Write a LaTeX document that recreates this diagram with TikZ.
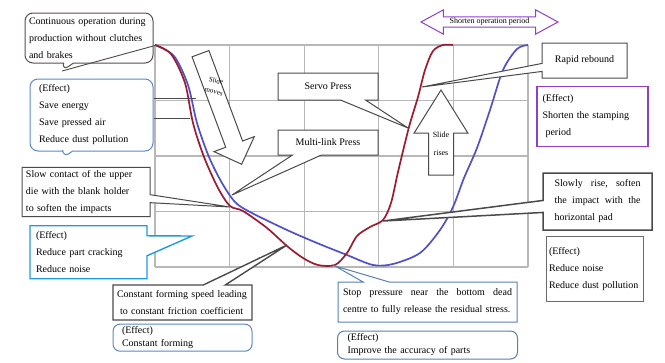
\documentclass[tikz,border=0pt]{standalone}
\usepackage{fontspec}
\setmainfont{Liberation Serif}
\usetikzlibrary{positioning,shapes.callouts,shapes.arrows}

\definecolor{servored}{HTML}{9B1C31}
\definecolor{linkblue}{HTML}{5050C8}
\definecolor{gridgray}{HTML}{B8B8B8}
\definecolor{boxgray}{HTML}{4A4A4A}
\definecolor{bubblegray}{HTML}{5A4D50}
\definecolor{effblue}{HTML}{5B88C8}
\definecolor{effcyan}{HTML}{1E9BE0}
\definecolor{stopblue}{HTML}{5A80B0}
\definecolor{effpurple}{HTML}{9040C8}
\definecolor{noisegray}{HTML}{6A6A6A}

\tikzset{
  every node/.style={font=\fontsize{10}{17}\selectfont},
  gridline/.style={draw=gridgray, line width=1.1pt},
  curve/.style={line width=1.7pt, smooth, tension=0.5},
  note/.style={draw=boxgray, line width=1pt, fill=white, align=left, inner xsep=4pt, inner ysep=3pt},
  notecall/.style={note, rectangle callout, callout pointer width=#1},
  notecall/.default=10pt,
  effect/.style={note, draw=effblue},
  ptrline/.style={draw=boxgray, line width=0.9pt},
  blockarrow/.style={draw=boxgray, line width=1pt, fill=white, single arrow, inner xsep=0pt},
  arrowtxt/.style={font=\fontsize{7}{11}\selectfont, align=center, inner sep=0pt},
}

\begin{document}
\begin{tikzpicture}[x=1pt,y=-1pt]
\useasboundingbox (0,0) rectangle (665,362);

% grid
\foreach \gx in {155,229.6,304.2,378.8,453.4,528}
  \draw[gridline] (\gx,45) -- (\gx,267);
\foreach \gy in {45,100.5,156,211.5,267}
  \draw[gridline] (155,\gy) -- (528,\gy);

% slide curves
\draw[curve, linkblue] plot coordinates {(155,45) (174,56) (188,85) (197,123) (209,157)
  (222,183) (235,202) (250,212) (287,230) (317,243) (347,255) (373,265) (393,264)
  (420,253) (440,230) (453,207) (464,178) (477,148) (490,110) (503,70) (517,49) (528,45)};
\draw[curve, servored] plot coordinates {(155,45) (171,54) (185,83) (193,123) (204,157)
  (218,188) (230,206) (243,211) (267,228) (287,246) (303,258) (318,265) (335,265)
  (347,253) (357,236) (370,227) (383,220) (391,203) (398,172) (409,127) (418,97)
  (425,70) (433,51) (443,45) (453,45)};

% points on the curves
\coordinate (top) at (157,45);
\coordinate (b1tip) at (62,71);
\coordinate (b2tip) at (63,158);
\coordinate (s1) at (196,98);
\coordinate (s2) at (190,118);
\coordinate (knee) at (230,207);
\coordinate (crackpt) at (192,236);
\coordinate (formpt) at (287,245);
\coordinate (bdc) at (335,266);
\coordinate (servopt) at (408,128);
\coordinate (linkpt) at (232,195);
\coordinate (reboundpt) at (422,87);
\coordinate (risept) at (383,221);

% slide arrows
\node[blockarrow, rotate=-69.6, minimum height=118pt, inner ysep=8.5pt,
  single arrow head extend=12.5pt] (moves) at (219.5,104.75) {};
\node[arrowtxt, rotate=-12] (movestxt) at (215,86) {Slide\\moves};
\node[blockarrow, rotate=90, minimum height=85pt, inner ysep=12pt,
  single arrow head extend=14.5pt, single arrow tip angle=64] (rises) at (441,142.5) {};
\node[arrowtxt, font=\fontsize{8}{18}\selectfont] (risestxt) at (441,144) {Slide\\rises};
\node[draw=effpurple, line width=1pt, fill=white, double arrow, double arrow head extend=7pt,
  double arrow tip angle=57, minimum height=137pt, inner sep=1pt,
  font=\fontsize{8}{8}\selectfont] (shorten) at (489.5,22) {Shorten operation period};

% left notes
\node[notecall=10pt, draw=bubblegray, rounded corners=8pt, text width=120pt, minimum height=50pt,
  callout absolute pointer={(b1tip)}] (cont) at (89,38)
  {Continuous operation during\\production without clutches\\and brakes};
\node[notecall=10pt, draw=effblue, rounded corners=8pt, text width=105pt, inner xsep=9pt,
  minimum height=72pt, below=15pt of cont, xshift=2.5pt, callout absolute pointer={(b2tip)}] (save)
  {(Effect)\\Save energy\\Save pressed air\\Reduce dust pollution};
\node[notecall=8pt, text width=120pt, minimum height=48pt,
  callout absolute pointer={(knee)}] (slow) at (86,192)
  {Slow contact of the upper\\die with the blank holder\\to soften the impacts};
\node[notecall=20pt, draw=effcyan, line width=1.4pt, text width=105pt, inner xsep=6pt,
  minimum height=53pt, below=8pt of slow, xshift=2.5pt, callout absolute pointer={(crackpt)}] (crack)
  {(Effect)\\Reduce part cracking\\Reduce noise};

% bottom notes
\node[notecall=22pt, line width=1.4pt, text width=131pt, minimum height=35pt,
  callout absolute pointer={(formpt)}] (speed) at (182.5,302.5)
  {Constant forming speed leading\\\hspace{3pt}to constant friction coefficient};
\node[effect, rounded corners=7pt, text width=121pt, inner xsep=9pt, inner ysep=2pt,
  minimum height=27pt, font=\fontsize{10}{13}\selectfont, below=3pt of speed] (const)
  {(Effect)\\Constant forming};
\node[notecall=26pt, draw=stopblue, text width=169pt, inner xsep=5pt, minimum height=40pt,
  callout absolute pointer={(bdc)}] (stop) at (427.5,302)
  {\makebox[169pt][l]{Stop\hfill pressure\hfill near\hfill the\hfill bottom\hfill dead}\\centre to fully release the residual stress.};
\node[effect, draw=stopblue, rounded corners=7pt, text width=160pt, inner xsep=10pt, inner ysep=2pt,
  minimum height=28pt, font=\fontsize{10}{13}\selectfont, below=8pt of stop] (accur)
  {(Effect)\\Improve the accuracy of parts};

% press labels
\node[notecall=25pt, minimum width=100pt, minimum height=27pt, align=center,
  callout absolute pointer={(servopt)}] (servo) at (328,86.5) {Servo Press};
\node[notecall=29pt, minimum width=100pt, minimum height=25pt, align=center,
  callout absolute pointer={(linkpt)}] (multi) at (328,142.5) {Multi-link Press};

% right notes
\node[notecall=8pt, minimum width=85pt, minimum height=35pt,
  callout absolute pointer={(reboundpt)}] (rebound) at (584.5,60.5) {Rapid rebound};
\node[note, draw=effpurple, line width=1.4pt, text width=100pt, inner xsep=5.5pt,
  minimum height=60pt, below=7pt of rebound, xshift=8pt] (period)
  {(Effect)\\Shorten the stamping\\\hspace{3pt}period};
\node[notecall=12pt, line width=1.5pt, text width=86pt, inner xsep=11.5pt, minimum height=57pt,
  callout absolute pointer={(risept)}] (rise) at (597.5,201.5)
  {\makebox[86pt][l]{Slowly\hfill rise,\hfill soften}\\\makebox[86pt][l]{the\hfill impact\hfill with\hfill the}\\horizontal pad};
\node[note, draw=noisegray, text width=91pt, inner xsep=3pt, minimum height=65pt,
  below=5pt of rise, xshift=-3pt] (noise)
  {(Effect)\\Reduce noise\\Reduce dust pollution};

% leader lines
\draw[ptrline] (b1tip) -- (top);
\draw[ptrline] (save.east |- s1) -- (s1);
\draw[ptrline] (save.east |- s2) -- (s2);
\end{tikzpicture}
\end{document}
